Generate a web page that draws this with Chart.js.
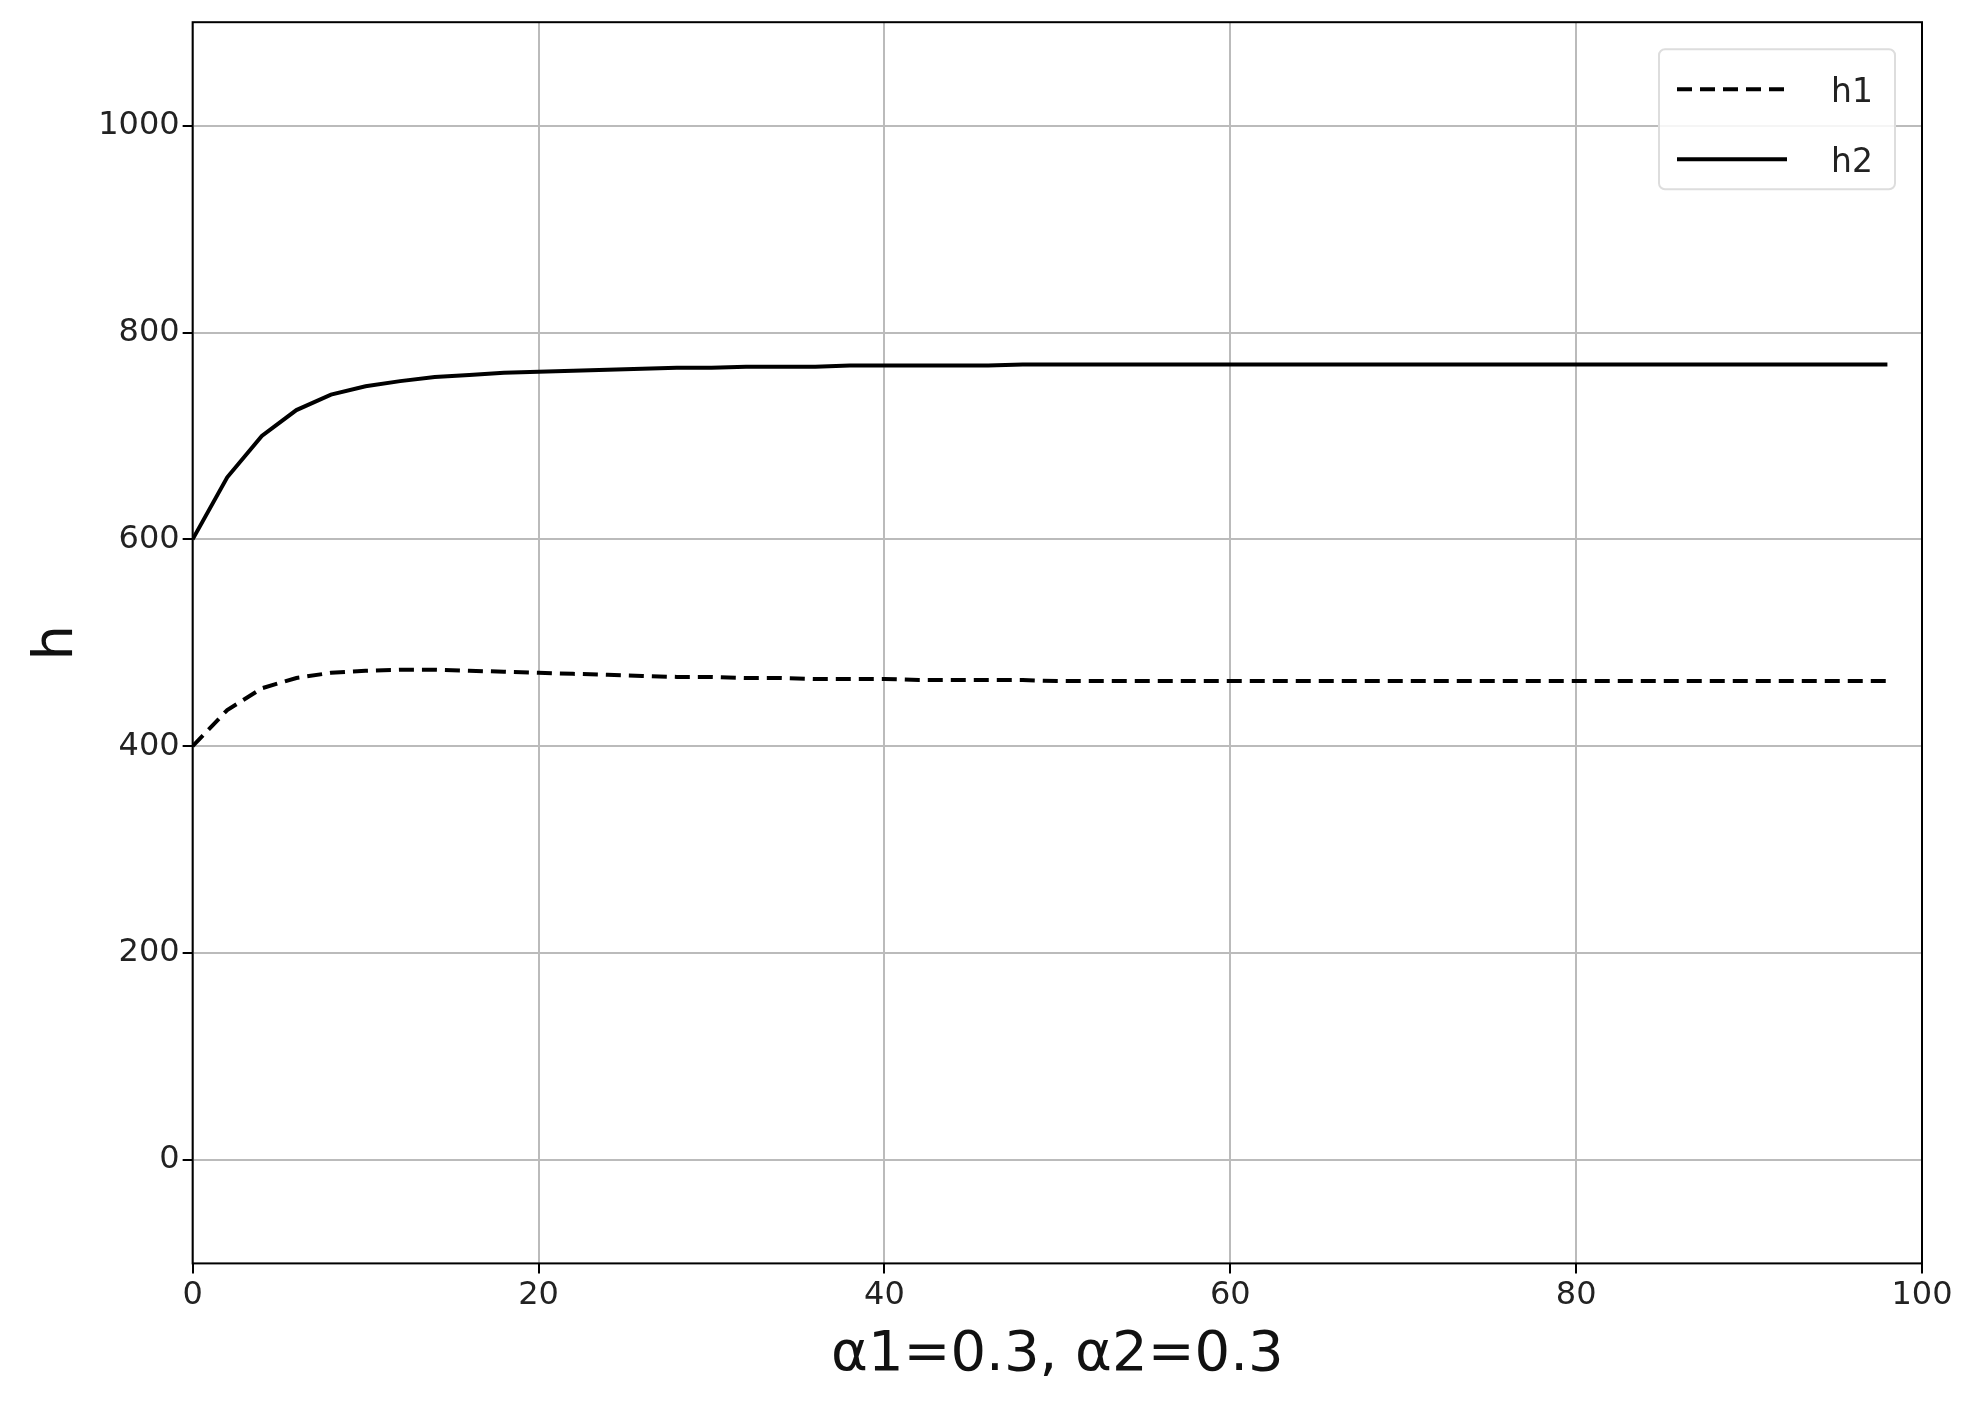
<!DOCTYPE html>
<html><head><meta charset="utf-8">
<script src="https://cdn.jsdelivr.net/npm/chart.js@4"></script>
<style>html,body{margin:0;background:#fff}#w{position:absolute;left:0;top:0;width:1977px;height:1413px}</style>
</head><body><div id="w"><canvas id="c"></canvas></div>
<script>
const xs = [];
for (let i = 0; i <= 98; i += 2) xs.push(i);
const h1 = [400,435,456,466,471,473,474,474,473,472,471,470,469,468,467,467,466,466,465,465,465,464,464,464,464,463,463,463,463,463,463,463,463,463,463,463,463,463,463,463,463,463,463,463,463,463,463,463,463,463];
const h2 = [600,660,700,725,740,748,753,757,759,761,762,763,764,765,766,766,767,767,767,768,768,768,768,768,769,769,769,769,769,769,769,769,769,769,769,769,769,769,769,769,769,769,769,769,769,769,769,769,769,769];
const xTicks = [0,20,40,60,80,100];
const yTicks = [0,200,400,600,800,1000];
const toPts = a => a.map((v,i)=>({x:xs[i],y:v}));
const frame = {id:'frame',afterDraw(c){const a=c.chartArea,x=c.ctx;x.save();
  x.strokeStyle='#000';x.lineWidth=2;x.strokeRect(a.left,a.top,a.right-a.left,a.bottom-a.top);
  // legend box
  const bw=236,bh=140,bx=a.right-27-bw,by=a.top+27;
  x.fillStyle='rgba(255,255,255,0.85)';x.strokeStyle='#ddd';x.lineWidth=2;
  x.beginPath();x.roundRect(bx,by,bw,bh,6);x.fill();x.stroke();
  c.data.datasets.forEach((d,i)=>{const yy=by+40+i*70;x.strokeStyle='#000';x.lineWidth=4;x.setLineDash(d.borderDash||[]);
    x.beginPath();x.moveTo(bx+18,yy);x.lineTo(bx+128,yy);x.stroke();x.setLineDash([]);
    x.fillStyle='#222';x.font='33px "DejaVu Sans"';x.textBaseline='middle';x.fillText(d.label,bx+172,yy+4);});
  x.restore();}};
new Chart(document.getElementById('c'),{
  type:'line',
  data:{datasets:[
    {label:'h1',data:toPts(h1),borderColor:'#000',borderWidth:4,borderDash:[15,8],pointRadius:0,tension:0},
    {label:'h2',data:toPts(h2),borderColor:'#000',borderWidth:4,pointRadius:0,tension:0}
  ]},
  options:{responsive:true,maintainAspectRatio:false,animation:false,
    layout:{padding:{top:22,right:55,left:20,bottom:20}},
    plugins:{legend:{display:false},tooltip:{enabled:false}},
    scales:{
      x:{type:'linear',min:0,max:100,afterBuildTicks:a=>{a.ticks=xTicks.map(v=>({value:v}))},
        grid:{color:'#bbb',lineWidth:2,tickLength:10,tickColor:'#000'},border:{display:false},
        ticks:{color:'#222',font:{family:'DejaVu Sans',size:32},maxRotation:0,callback:v=>String(v)},
        title:{display:true,text:'α1=0.3, α2=0.3',color:'#111',font:{family:'DejaVu Sans',size:56}}},
      y:{min:-100,max:1100,afterBuildTicks:a=>{a.ticks=yTicks.map(v=>({value:v}))},
        grid:{color:'#bbb',lineWidth:2,tickLength:10,tickColor:'#000'},border:{display:false},
        ticks:{color:'#222',font:{family:'DejaVu Sans',size:32},callback:v=>String(v)},
        title:{display:true,text:'h',color:'#111',font:{family:'DejaVu Sans',size:56}}}
    }},
  plugins:[frame]
});
</script></body></html>
